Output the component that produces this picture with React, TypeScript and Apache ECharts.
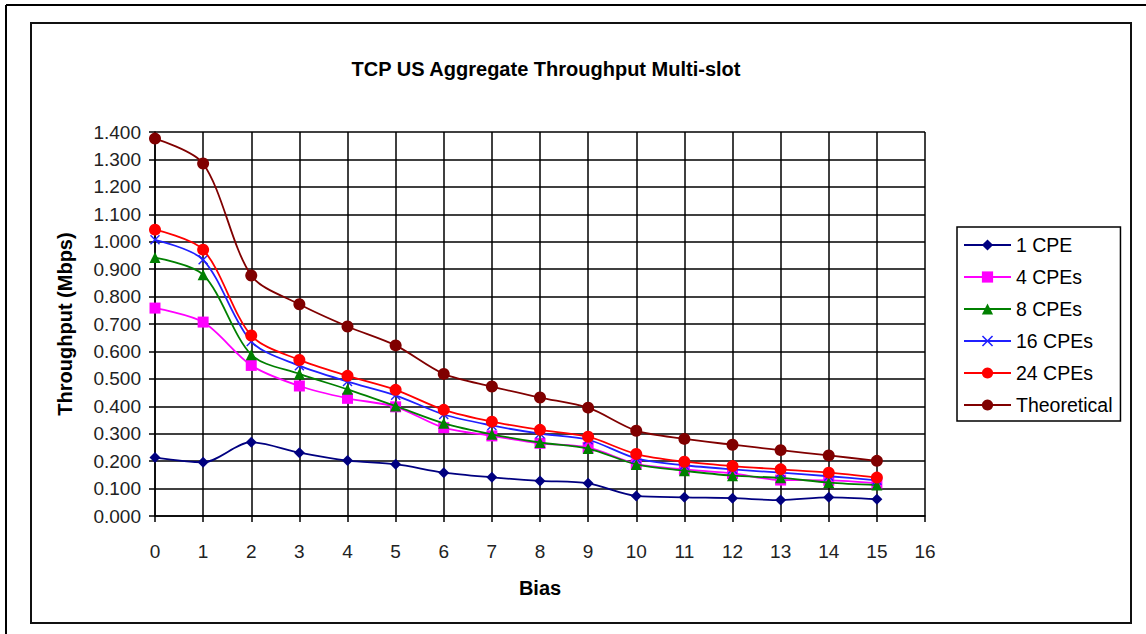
import React, { useEffect, useRef } from "react";
import * as echarts from "echarts";

const biasValues = [0, 1, 2, 3, 4, 5, 6, 7, 8, 9, 10, 11, 12, 13, 14, 15];
const cpe1 = [0.213, 0.196, 0.269, 0.231, 0.202, 0.189, 0.158, 0.141, 0.128, 0.119, 0.073, 0.068, 0.065, 0.058, 0.068, 0.061];
const cpe4 = [0.758, 0.707, 0.549, 0.474, 0.429, 0.398, 0.322, 0.292, 0.265, 0.25, 0.19, 0.17, 0.155, 0.131, 0.13, 0.12];
const cpe8 = [0.942, 0.88, 0.588, 0.518, 0.462, 0.401, 0.338, 0.298, 0.268, 0.246, 0.188, 0.165, 0.147, 0.139, 0.122, 0.113];
const cpe16 = [1.007, 0.934, 0.636, 0.548, 0.49, 0.44, 0.37, 0.33, 0.3, 0.278, 0.21, 0.185, 0.17, 0.158, 0.145, 0.13];
const cpe24 = [1.044, 0.971, 0.658, 0.569, 0.511, 0.46, 0.387, 0.344, 0.314, 0.289, 0.226, 0.198, 0.182, 0.17, 0.158, 0.14];
const theoretical = [1.376, 1.285, 0.877, 0.772, 0.691, 0.622, 0.518, 0.472, 0.432, 0.395, 0.311, 0.281, 0.26, 0.24, 0.221, 0.201];

const seriesNames = ["1 CPE", "4 CPEs", "8 CPEs", "16 CPEs", "24 CPEs", "Theoretical"];
const seriesData = [cpe1, cpe4, cpe8, cpe16, cpe24, theoretical];
const seriesColors = ["#000080", "#ff00ff", "#008000", "#2020ff", "#ff0000", "#800000"];
const seriesSymbols = [
  "diamond",
  "rect",
  "triangle",
  "path://M0,1L1,0L5,4L9,0L10,1L6,5L10,9L9,10L5,6L1,10L0,9L4,5Z",
  "circle",
  "circle",
];
const symbolSizes = [11, 11, 11, 10, 12, 12];

const titleText = "TCP US Aggregate Throughput Multi-slot";
const xAxisName = "Bias";
const yAxisName = "Throughput (Mbps)";

const FONT = "'Liberation Sans', Arial, sans-serif";

export default function App() {
  const ref = useRef<HTMLDivElement>(null);
  useEffect(() => {
    if (!ref.current) return;
    const chart = echarts.init(ref.current, null, { renderer: "svg" });
    const series = seriesNames.map((name, i) => ({
      name,
      type: "line",
      data: biasValues.map((b, j) => [b, seriesData[i][j]]),
      smooth: 0.3,
      symbol: seriesSymbols[i],
      symbolSize: symbolSizes[i],
      showSymbol: true,
      lineStyle: { color: seriesColors[i], width: 1.8 },
      itemStyle: { color: seriesColors[i] },
      z: 3 + i,
    }));
    chart.setOption({
      animation: false,
      backgroundColor: "#ffffff",
      title: {
        text: titleText,
        left: 541,
        top: 54,
        textAlign: "center",
        textStyle: { fontFamily: FONT, fontSize: 20, fontWeight: "bold", color: "#000" },
      },
      legend: {
        orient: "vertical",
        left: 957,
        top: 227,
        itemWidth: 47,
        itemHeight: 14,
        itemGap: 12,
        padding: [8, 8, 6, 6],
        borderColor: "#000",
        borderWidth: 1.5,
        textStyle: { fontFamily: FONT, fontSize: 19.5, color: "#000" },
        data: seriesNames,
      },
      grid: { left: 155, top: 132, width: 770, height: 384, containLabel: false },
      xAxis: {
        type: "value",
        min: 0,
        max: 16,
        interval: 1,
        name: xAxisName,
        nameLocation: "middle",
        nameGap: 62,
        nameTextStyle: { fontFamily: FONT, fontSize: 20, fontWeight: "bold", color: "#000" },
        axisLine: { show: true, lineStyle: { color: "#000", width: 1.5 } },
        axisTick: { show: true, length: 6, lineStyle: { color: "#000", width: 1.5 } },
        axisLabel: { fontFamily: FONT, fontSize: 19, color: "#222", margin: 26 },
        splitLine: { show: true, lineStyle: { color: "#000", width: 1.5 } },
      },
      yAxis: {
        type: "value",
        min: 0,
        max: 1.4,
        interval: 0.1,
        name: yAxisName,
        nameLocation: "middle",
        nameGap: 80,
        nameTextStyle: { fontFamily: FONT, fontSize: 20, fontWeight: "bold", color: "#000" },
        axisLine: { show: true, lineStyle: { color: "#000", width: 1.5 } },
        axisTick: { show: true, length: 6, lineStyle: { color: "#000", width: 1.5 } },
        axisLabel: {
          fontFamily: FONT,
          fontSize: 19,
          color: "#222",
          margin: 14,
          formatter: (v: number) => v.toFixed(3),
        },
        splitLine: { show: true, lineStyle: { color: "#000", width: 1.5 } },
      },
      graphic: [
        { type: "line", shape: { x1: 6, y1: 5, x2: 1146, y2: 5 }, style: { stroke: "#000", lineWidth: 2 } },
        { type: "line", shape: { x1: 6, y1: 5, x2: 6, y2: 634 }, style: { stroke: "#000", lineWidth: 2 } },
        {
          type: "rect",
          shape: { x: 31, y: 23, width: 1100, height: 600 },
          style: { fill: "none", stroke: "#111", lineWidth: 2 },
          z: -1,
        },
      ],
      series,
    });
    return () => chart.dispose();
  }, []);
  return (
    <div
      ref={ref}
      style={{ position: "fixed", left: 0, top: 0, width: 1146, height: 634, background: "#fff" }}
    />
  );
}
